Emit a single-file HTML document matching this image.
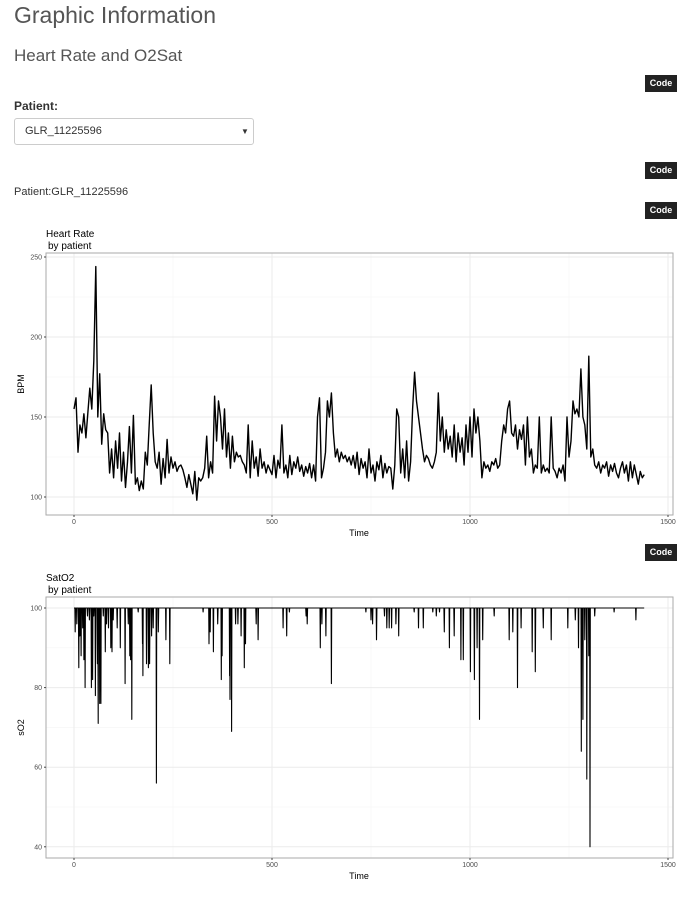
<!DOCTYPE html>
<html><head><meta charset="utf-8">
<style>
body{margin:0;width:695px;height:900px;background:#fff;font-family:"Liberation Sans",sans-serif;color:#333;position:relative;overflow:hidden}
.a{position:absolute}
.code{position:absolute;left:645px;width:32px;height:17px;background:#222;color:#fff;font-size:9px;font-weight:bold;line-height:17px;text-align:center}
</style></head><body>
<div class="a" style="left:14px;top:2px;font-size:23px;font-weight:300;color:#555">Graphic Information</div>
<div class="a" style="left:14px;top:46px;font-size:17px;color:#555">Heart Rate and O2Sat</div>
<div class="code" style="top:75px">Code</div>
<div class="a" style="left:14px;top:99px;font-size:12px;font-weight:bold">Patient:</div>
<div class="a" style="left:14px;top:118px;width:238px;height:25px;border:1px solid #ccc;border-radius:3px;font-size:11px;line-height:25px;text-indent:10px">GLR_11225596<span style="position:absolute;left:216px;top:0;font-size:8px">&#9660;</span></div>
<div class="code" style="top:162px">Code</div>
<div class="a" style="left:14px;top:186px;font-size:11px">Patient:GLR_11225596</div>
<div class="code" style="top:202px">Code</div>
<div class="code" style="top:544px">Code</div>
<svg class="a" style="left:0;top:0" width="695" height="900" id="svg"></svg>
<script>
const hrValues=[155,162,128,145,140,152,137,153,168,155,185,244,150,177,133,152,142,140,115,130,
112,135,118,140,110,128,106,122,144,115,151,108,112,104,110,105,128,120,145,170,
140,122,118,128,108,124,112,136,115,125,118,122,116,119,120,117,112,106,114,108,
102,116,98,112,110,112,118,138,112,122,115,163,135,160,150,130,155,125,140,118,
138,122,128,125,126,122,120,115,145,112,135,118,125,113,130,118,122,115,120,117,
114,126,112,123,118,145,115,120,112,126,114,122,118,125,116,120,113,119,115,121,
112,120,110,150,162,112,118,128,160,150,165,140,125,130,122,128,124,126,122,125,
120,126,118,128,114,124,118,122,112,130,115,120,110,122,117,126,112,121,115,119,
118,105,120,155,150,115,130,112,135,110,122,155,178,160,150,140,130,122,126,124,
120,118,122,128,165,135,150,128,142,130,138,125,145,122,140,128,137,120,145,128,
150,125,155,140,150,135,112,122,118,120,116,122,120,124,118,120,135,145,140,155,
160,140,138,145,130,142,136,145,120,150,125,130,115,120,118,150,115,120,116,118,
115,150,118,116,112,118,115,120,110,150,125,135,160,152,155,150,180,150,145,130,
188,125,130,120,118,122,115,120,118,122,113,120,116,121,115,112,118,122,115,120,
110,122,112,120,114,108,116,112,114];
const hrStep=5;
const dipTimes=[3,7,12,15,18,22,25,28,34,39,44,47,50,54,59,61,65,68,74,79,82,87,93,96,99,109,117,129,137,141,143,146,162,173,174,183,188,191,196,200,208,213,232,242,326,341,344,352,363,372,374,393,394,398,408,414,422,430,433,460,465,528,537,544,586,589,622,626,636,650,737,750,754,764,784,790,796,802,813,820,859,870,882,906,915,923,935,948,960,977,983,1001,1011,1018,1024,1032,1061,1099,1108,1120,1129,1157,1165,1185,1205,1247,1266,1274,1281,1285,1290,1295,1300,1303,1315,1364,1419];
const dipValues=[94,96,85,93,88,95,87,80,98,97,80,82,98,78,86,71,76,76,98,89,96,95,90,89,97,95,90,81,96,88,87,72,99,91,83,86,85,86,93,95,56,94,92,86,99,91,94,89,96,82,88,83,77,69,96,96,93,85,91,96,92,95,93,99,98,96,90,96,93,81,99,97,96,92,98,95,95,95,96,93,99,95,95,99,98,99,94,90,93,87,87,84,82,90,72,92,98,92,94,80,95,89,84,95,92,95,97,90,64,72,92,57,88,40,98,99,97];
const spoEnd=1440;
const xTicks=[0,500,1000,1500];
const hrTicks=[100,150,200,250];
const spoTicks=[40,60,80,100];

const svg=document.getElementById('svg');
const NS='http://www.w3.org/2000/svg';
function mk(tag,attrs,parent){const e=document.createElementNS(NS,tag);for(const k in attrs)e.setAttribute(k,attrs[k]);(parent||svg).appendChild(e);return e;}
const xS=t=>74+t*0.396;
function panel(name,top,bottom,yS,ticks,minor,ytitle,title){
  const g=mk('g',{});
  
  
  [250,750,1250].forEach(t=>mk('line',{x1:xS(t),x2:xS(t),y1:top,y2:bottom,stroke:'#f4f4f4','stroke-width':0.6},g));
  minor.forEach(v=>mk('line',{x1:46,x2:673,y1:yS(v),y2:yS(v),stroke:'#f4f4f4','stroke-width':0.6},g));
  xTicks.forEach(t=>mk('line',{x1:xS(t),x2:xS(t),y1:top,y2:bottom,stroke:'#ebebeb','stroke-width':1},g));
  ticks.forEach(v=>mk('line',{x1:46,x2:673,y1:yS(v),y2:yS(v),stroke:'#ebebeb','stroke-width':1},g));
  mk('rect',{x:46,y:top,width:627,height:bottom-top,fill:'none',stroke:'#aaa','stroke-width':1},g);
  xTicks.forEach(t=>{mk('line',{x1:xS(t),x2:xS(t),y1:bottom,y2:bottom+2,stroke:'#444'},g);
    const tx=mk('text',{x:xS(t),y:bottom+9,'font-size':7,fill:'#4d4d4d','text-anchor':'middle'},g);
    
    
    tx.textContent=t;});
  ticks.forEach(v=>{mk('line',{x1:44,x2:46,y1:yS(v),y2:yS(v),stroke:'#444'},g);
    const tx=mk('text',{x:42,y:yS(v)+2.5,'font-size':7,fill:'#4d4d4d','text-anchor':'end'},g);
    
    
    tx.textContent=v;});
  const xt=mk('text',{x:359,y:bottom+21,'font-size':9,fill:'#000','text-anchor':'middle'},g);
  
  
  xt.textContent='Time';
  const yc=(top+bottom)/2;
  const yt=mk('text',{x:24,y:yc,'font-size':9,fill:'#000','text-anchor':'middle',transform:`rotate(-90 24 ${yc})`},g);
  
  
  yt.textContent=ytitle;
  const t1=mk('text',{x:46,y:top-16,'font-size':10,fill:'#000'},g);
  
  
  t1.textContent=title;
  const t2=mk('text',{x:48,y:top-4,'font-size':10,fill:'#000'},g);
  
  
  t2.textContent='by patient';
  return g;
}
const hrY=v=>497-(v-100)*1.6;
const g1=panel('heart-rate-chart',253,515,hrY,hrTicks,[125,175,225],'BPM','Heart Rate');
const hrPts=hrValues.map((v,i)=>xS(i*hrStep).toFixed(1)+','+hrY(v).toFixed(1)).join(' ');
const l1=mk('polyline',{points:hrPts,fill:'none',stroke:'#000','stroke-width':1.4,'stroke-linejoin':'round'},g1);



const spY=v=>608+(100-v)*3.98;
const g2=panel('sato2-chart',597,858,spY,spoTicks,[50,70,90],'sO2','SatO2');
let pts=[[0,100]];
dipTimes.forEach((t,i)=>{pts.push([t-0.8,100]);pts.push([t,dipValues[i]]);pts.push([t+0.8,100]);});
pts.push([spoEnd,100]);
const l2=mk('polyline',{points:pts.map(p=>xS(p[0]).toFixed(1)+','+spY(p[1]).toFixed(1)).join(' '),fill:'none',stroke:'#000','stroke-width':1.1,'stroke-linejoin':'round'},g2);


</script>
</body></html>
